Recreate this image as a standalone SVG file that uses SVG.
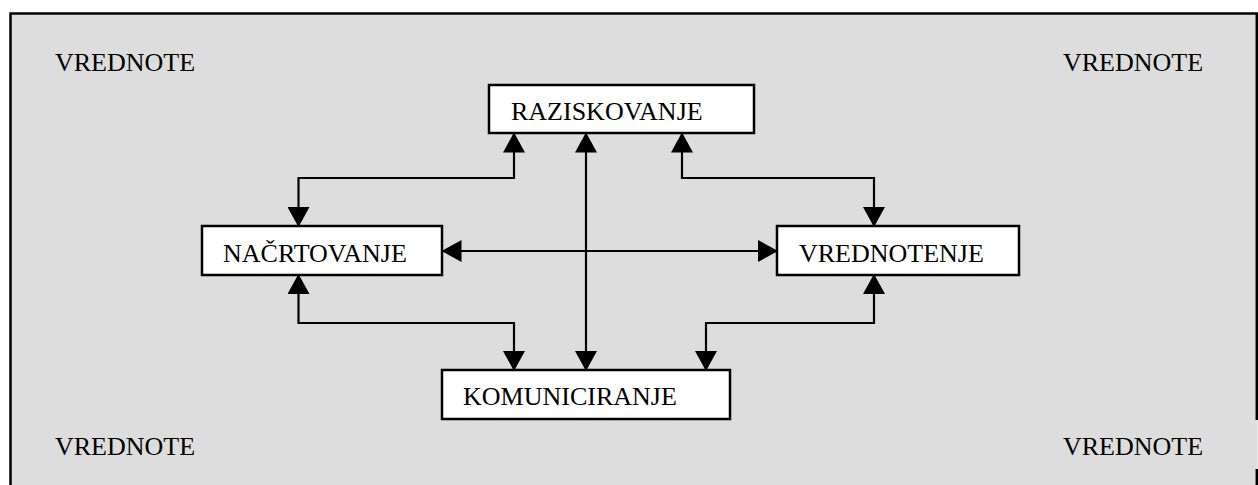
<svg xmlns="http://www.w3.org/2000/svg" width="1258" height="485" viewBox="0 0 1258 485">
  <style>
    .frame { fill: #dddddd; }
    .edge { fill: none; stroke: #000; stroke-width: 2.5; }
    .box { fill: #ffffff; stroke: #000; stroke-width: 2.5; }
    .lbl { font-family: "Liberation Serif", "Times New Roman", serif; font-size: 26px; fill: #000; }
    .conn { fill: none; stroke: #000; stroke-width: 2.2; marker-start: url(#ah); marker-end: url(#ah); }
  </style>
  <defs>
    <marker id="ah" markerUnits="userSpaceOnUse" markerWidth="20" markerHeight="22" viewBox="0 0 20 22" refX="19" refY="11" orient="auto-start-reverse">
      <path d="M0,0 L20,11 L0,22 Z" fill="#000"/>
    </marker>
  </defs>

  <!-- background panel -->
  <rect class="frame" x="10.5" y="13.5" width="1247" height="472"/>
  <path class="edge" d="M10.5,485 V13.5 H1256.8 V420"/>
  <path class="edge" d="M1256.8,469 V485"/>

  <!-- corner labels -->
  <g id="vrednote-tl"><text class="lbl" x="55" y="71">VREDNOTE</text></g>
  <g id="vrednote-tr"><text class="lbl" x="1063" y="71">VREDNOTE</text></g>
  <g id="vrednote-bl"><text class="lbl" x="55" y="455">VREDNOTE</text></g>
  <g id="vrednote-br"><text class="lbl" x="1063" y="455">VREDNOTE</text></g>

  <!-- connectors -->
  <g id="connectors">
    <path class="conn" d="M514,133.5 V178 H298.5 V226"/>
    <path class="conn" d="M682,133.5 V178 H874 V226"/>
    <path class="conn" d="M586,133.5 V370"/>
    <path class="conn" d="M442.5,251 H777"/>
    <path class="conn" d="M298.5,275 V323 H514 V370"/>
    <path class="conn" d="M874,275 V323 H706 V370"/>
  </g>

  <!-- nodes -->
  <g id="raziskovanje">
    <rect class="box" x="489" y="85" width="265" height="48"/>
    <text class="lbl" x="511" y="120">RAZISKOVANJE</text>
  </g>
  <g id="nacrtovanje">
    <rect class="box" x="202" y="226" width="240" height="49"/>
    <text class="lbl" x="223" y="262">NAČRTOVANJE</text>
  </g>
  <g id="vrednotenje">
    <rect class="box" x="777" y="226" width="242" height="49"/>
    <text class="lbl" x="799" y="262">VREDNOTENJE</text>
  </g>
  <g id="komuniciranje">
    <rect class="box" x="442" y="370" width="288" height="49"/>
    <text class="lbl" x="463" y="405">KOMUNICIRANJE</text>
  </g>
</svg>
